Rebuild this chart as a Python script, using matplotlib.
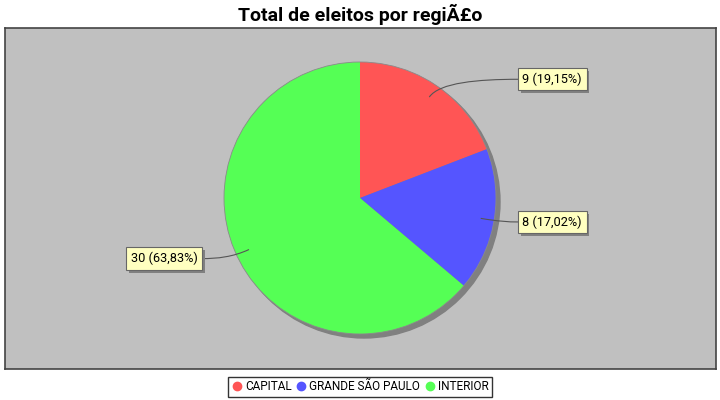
import numpy as np
import matplotlib
matplotlib.use("Agg")
import matplotlib.pyplot as plt
from matplotlib.path import Path
from matplotlib.patches import PathPatch, Circle
from matplotlib.lines import Line2D
import matplotlib.patheffects as pe

plt.rcParams['font.family'] = ['Roboto', 'DejaVu Sans']

# dados
regioes = ["CAPITAL", "GRANDE SÃO PAULO", "INTERIOR"]
eleitos = [9, 8, 30]
cores = ["#FF5555", "#5555FF", "#55FF55"]
titulo = "Total de eleitos por regiÃ£o"

total = sum(eleitos)
rotulos = [f"{v} ({v / total * 100:.2f}%)".replace(".", ",") for v in eleitos]

fig = plt.figure(figsize=(7.2, 4.0), dpi=100)
W, H = 711, 341
ax = fig.add_axes([5 / 720, 31 / 400, W / 720, H / 400])

cx, cy, R = 355, 171, 136

# sombra
ax.add_patch(Circle((cx + 4, cy - 4), R, color="#808080", zorder=1))
fatias, _ = ax.pie(eleitos, colors=cores, startangle=90, counterclock=False,
                   center=(cx, cy), radius=R,
                   wedgeprops=dict(linewidth=0, zorder=2))
ax.add_patch(Circle((cx, cy), R, fill=False, edgecolor="#8a8a8a", lw=0.6, zorder=3))

ax.set_xlim(0, W)
ax.set_ylim(0, H)
ax.set_aspect("auto")
ax.set_frame_on(True)
ax.set_facecolor("#C0C0C0")
ax.set_xticks([])
ax.set_yticks([])
for s in ax.spines.values():
    s.set_color("#444444")
    s.set_linewidth(1.2)

# rótulos com linhas de ligação
fs = 9.2
pad_px = 0.35 * fs * 100 / 72
ang_ini = 90.0
for v, txt in zip(eleitos, rotulos):
    meio = ang_ini - v / total * 360 / 2
    ang_ini -= v / total * 360
    a = np.radians(meio)
    ax0 = cx + np.cos(a) * R * 0.9
    ay0 = cy + np.sin(a) * R * 0.9
    ly = cy + np.sin(a) * 144
    lado = 1 if np.cos(a) >= 0 else -1
    lx = cx + lado * 158
    c1 = (cx + np.cos(a) * R * 1.03, cy + np.sin(a) * R * 1.03)
    c2 = ((c1[0] + lx) / 2, ly)
    caminho = Path([(ax0, ay0), c1, c2, (lx, ly)],
                   [Path.MOVETO, Path.CURVE4, Path.CURVE4, Path.CURVE4])
    ax.add_patch(PathPatch(caminho, fill=False, edgecolor="#555555", lw=0.8, zorder=4))
    t = ax.text(lx + lado * pad_px, ly, txt, ha="left" if lado > 0 else "right", va="center",
                fontsize=fs, color="black", zorder=5,
                bbox=dict(boxstyle="square,pad=0.35", fc="#FFFFC0", ec="#666666", lw=0.8))
    t.get_bbox_patch().set_path_effects([
        pe.SimplePatchShadow(offset=(2, -2), shadow_rgbFace="#808080", alpha=1.0),
        pe.Normal()])

fig.text(0.5, 0.965, titulo, ha="center", va="center", fontsize=14, fontweight="bold")

alcas = [Line2D([], [], marker="o", ls="", color=c, markersize=6) for c in cores]
leg = fig.legend(alcas, regioes, loc="center", bbox_to_anchor=(0.5, 0.0325), ncol=3,
                 frameon=True, fancybox=False, fontsize=8.5, handletextpad=0.25,
                 columnspacing=0.35, borderpad=0.3, handlelength=0.9, borderaxespad=0)
leg.get_frame().set_edgecolor("black")
leg.get_frame().set_linewidth(1.0)

fig.savefig("out.png", dpi=100)
